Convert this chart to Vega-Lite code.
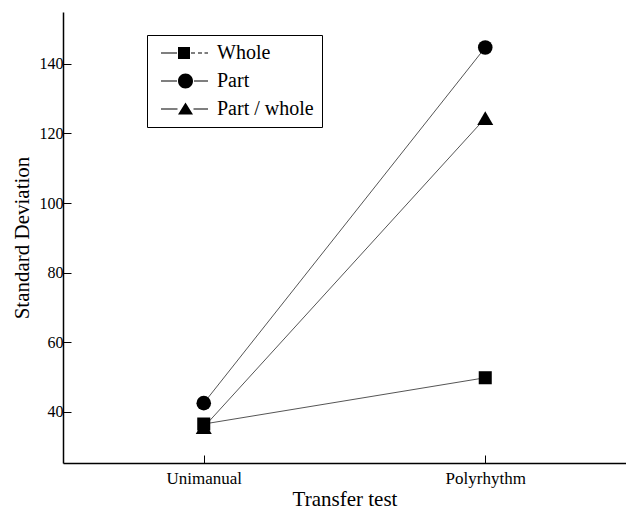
{
  "$schema": "https://vega.github.io/schema/vega-lite/v6.json",
  "autosize": "none",
  "width": 563,
  "height": 451,
  "padding": {"left": 63, "top": 12, "right": 0, "bottom": 48},
  "background": "white",
  "config": {
    "view": {"stroke": null},
    "font": "Liberation Serif",
    "axis": {
      "domainColor": "black",
      "tickColor": "black",
      "labelColor": "black",
      "titleColor": "black",
      "labelFont": "Liberation Serif",
      "titleFont": "Liberation Serif",
      "titleFontWeight": "normal",
      "grid": false
    }
  },
  "data": {
    "values": [
      {"test": "Unimanual", "group": "Whole", "value": 36.5},
      {"test": "Polyrhythm", "group": "Whole", "value": 49.8},
      {"test": "Unimanual", "group": "Part", "value": 42.5},
      {"test": "Polyrhythm", "group": "Part", "value": 144.7},
      {"test": "Unimanual", "group": "Part / whole", "value": 35.6},
      {"test": "Polyrhythm", "group": "Part / whole", "value": 124.4}
    ]
  },
  "encoding": {
    "x": {
      "field": "test",
      "type": "nominal",
      "sort": ["Unimanual", "Polyrhythm"],
      "scale": {"type": "point", "padding": 0.5},
      "axis": {
        "title": "Transfer test",
        "labelAngle": 0,
        "labelFontSize": 17,
        "titleFontSize": 21,
        "tickSize": -8,
        "tickWidth": 1,
        "domainWidth": 1.5,
        "labelPadding": 15,
        "titlePadding": 2
      }
    },
    "y": {
      "field": "value",
      "type": "quantitative",
      "scale": {"domain": [25.3, 154.9], "nice": false, "zero": false},
      "axis": {
        "title": "Standard Deviation",
        "values": [40, 60, 80, 100, 120, 140],
        "labelFontSize": 16,
        "titleFontSize": 21,
        "tickSize": -8,
        "tickWidth": 1,
        "domainWidth": 1.5,
        "labelPadding": 8,
        "titlePadding": 7
      }
    }
  },
  "layer": [
    {
      "mark": {"type": "line", "color": "#555555", "strokeWidth": 1},
      "encoding": {"detail": {"field": "group"}}
    },
    {
      "mark": {"type": "point", "filled": true, "color": "black", "opacity": 1},
      "encoding": {
        "shape": {
          "field": "group",
          "scale": {"domain": ["Whole", "Part", "Part / whole"], "range": ["square", "circle", "triangle-up"]},
          "legend": null
        },
        "size": {
          "field": "group",
          "type": "nominal",
          "scale": {"domain": ["Whole", "Part", "Part / whole"], "range": [170, 256, 200]},
          "legend": null
        }
      }
    },
    {
      "mark": {"type": "point", "filled": true, "color": "black", "opacity": 0, "size": 400},
      "encoding": {
        "shape": {
          "field": "group",
          "scale": {
            "domain": ["Whole", "Part", "Part / whole"],
            "range": [
              "M-0.4,-0.06H1.2V0.06H-0.4ZM1.3,-0.6H2.5V0.6H1.3ZM2.6,-0.06H3V0.06H2.6ZM3.3,-0.06H3.7V0.06H3.3ZM3.95,-0.06H4.3V0.06H3.95Z",
              "M-0.4,-0.06H1.2V0.06H-0.4ZM2.8,0A0.75,0.75 0 1,1 1.3,0A0.75,0.75 0 1,1 2.8,0ZM2.9,-0.06H4.3V0.06H2.9Z",
              "M-0.4,-0.06H1.25V0.06H-0.4ZM2.05,-0.65L2.8,0.55H1.3ZM2.85,-0.06H4.3V0.06H2.85Z"
            ]
          },
          "legend": {
            "title": null,
            "orient": "none",
            "legendX": 84,
            "legendY": 23,
            "strokeColor": "black",
            "padding": 8,
            "symbolSize": 400,
            "symbolOpacity": 1,
            "symbolFillColor": "black",
            "symbolStrokeWidth": 0,
            "labelFont": "Liberation Serif",
            "labelFontSize": 20,
            "labelColor": "black",
            "labelOffset": 42,
            "rowPadding": 8,
            "encode": {
              "symbols": {
                "update": {
                  "fill": {"value": "black"},
                  "opacity": {"value": 1},
                  "fillOpacity": {"value": 1}
                }
              }
            }
          }
        }
      }
    }
  ],
  "resolve": {"scale": {"shape": "independent", "size": "independent"}}
}
